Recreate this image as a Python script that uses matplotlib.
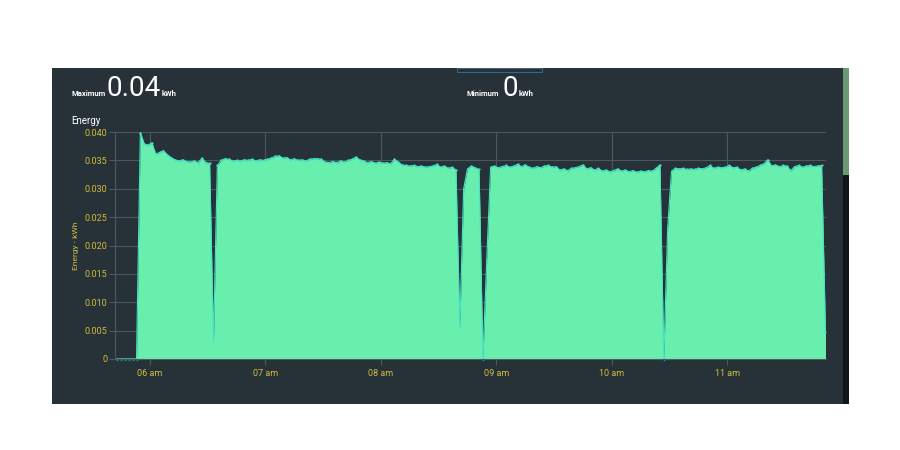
import matplotlib.pyplot as plt
from matplotlib.patches import Rectangle
import numpy as np

# 数据: 05:43 起每 2 分钟一个点 (kWh)
start_hour = 5 + 43 / 60
step_min = 2

off_vals = [0, 0, 0, 0, 0, 0]
seg_a = [0.0399, 0.0379, 0.0377, 0.0381, 0.0361, 0.0364, 0.0367, 0.0360, 0.0355, 0.0351,
         0.0349, 0.0351, 0.0348, 0.0347, 0.0349, 0.0346, 0.0354, 0.0346, 0.0345]
dip_a = [0.0033]
seg_b = [0.0341, 0.0350, 0.0353, 0.0352, 0.0349, 0.0350, 0.0349, 0.0351, 0.0350, 0.0352,
         0.0349, 0.0351, 0.0350, 0.0352, 0.0354, 0.0357, 0.0358, 0.0354, 0.0355, 0.0351,
         0.0353, 0.0350, 0.0351, 0.0349, 0.0352, 0.0353, 0.0353, 0.0352, 0.0347, 0.0346,
         0.0348, 0.0346, 0.0349, 0.0347, 0.0350, 0.0352, 0.0356, 0.0351, 0.0349, 0.0346,
         0.0348, 0.0345, 0.0347, 0.0345, 0.0346, 0.0344, 0.0352, 0.0347, 0.0342, 0.0341,
         0.0340, 0.0341, 0.0339, 0.0340, 0.0338, 0.0339, 0.0340, 0.0343, 0.0338, 0.0340,
         0.0336, 0.0338, 0.0333]
dip_b = [0.0056, 0.0300, 0.0335, 0.0340, 0.0337, 0.0334, 0.0, 0.0175]
seg_c = [0.0338, 0.0340, 0.0337, 0.0339, 0.0341, 0.0338, 0.0340, 0.0343, 0.0339, 0.0342,
         0.0338, 0.0336, 0.0339, 0.0337, 0.0340, 0.0341, 0.0338, 0.0339, 0.0333, 0.0335,
         0.0332, 0.0336, 0.0337, 0.0339, 0.0342, 0.0335, 0.0337, 0.0333, 0.0336, 0.0331,
         0.0333, 0.0330, 0.0332, 0.0335, 0.0331, 0.0333, 0.0330, 0.0332, 0.0329, 0.0331,
         0.0330, 0.0332, 0.0331, 0.0336, 0.0342]
dip_c = [0.0, 0.0230]
seg_d = [0.0331, 0.0336, 0.0335, 0.0336, 0.0334, 0.0335, 0.0334, 0.0336, 0.0335, 0.0337,
         0.0341, 0.0336, 0.0338, 0.0337, 0.0338, 0.0341, 0.0337, 0.0338, 0.0333, 0.0335,
         0.0331, 0.0336, 0.0338, 0.0341, 0.0344, 0.0351, 0.0340, 0.0342, 0.0339, 0.0341,
         0.0340, 0.0332, 0.0339, 0.0341, 0.0338, 0.0340, 0.0341, 0.0339, 0.0340, 0.0341]
tail = [0.0048]

energy = off_vals + seg_a + dip_a + seg_b + dip_b + seg_c + dip_c + seg_d + tail
hours = start_hour + np.arange(len(energy)) * step_min / 60

hour_ticks = [6, 7, 8, 9, 10, 11]
hour_labels = ['06 am', '07 am', '08 am', '09 am', '10 am', '11 am']
y_ticks = [0, 0.005, 0.010, 0.015, 0.020, 0.025, 0.030, 0.035, 0.040]

# 颜色
bg = '#263238'
grid_c = '#4d585e'
yellow = '#d1bd3c'
fill_c = '#69efad'
line_c = '#45e4c6'

plt.rcParams['font.family'] = ['Roboto', 'DejaVu Sans']

W, H = 900, 450
fig = plt.figure(figsize=(9, 4.5), dpi=100, facecolor='white')


def px(x, y):
    return x / W, 1 - y / H


# 面板背景
fig.patches.append(Rectangle(px(52, 404), 797 / W, 336 / H, transform=fig.transFigure,
                             facecolor=bg, edgecolor='none', zorder=0))
# 滚动条
fig.patches.append(Rectangle(px(843, 404), 6 / W, 229 / H, transform=fig.transFigure,
                             facecolor='#121617', edgecolor='none', zorder=1))
fig.patches.append(Rectangle(px(843, 175), 6 / W, 107 / H, transform=fig.transFigure,
                             facecolor='#6a9a72', edgecolor='none', zorder=1))
# 顶部标签框
fig.patches.append(Rectangle(px(457, 71.5), 85 / W, 4 / H, transform=fig.transFigure,
                             facecolor='none', edgecolor='#3c6580', lw=0.8, zorder=1))
fig.patches.append(Rectangle(px(456, 67.5), 87 / W, 4 / H, transform=fig.transFigure,
                             facecolor='white', edgecolor='none', zorder=1))

# 标题文字
fig.text(*px(71, 96), 'Maximum', color='white', fontsize=5.5, fontweight='bold', va='baseline')
fig.text(*px(106, 96), '0.04', color='white', fontsize=20, va='baseline')
fig.text(*px(162, 96), 'kWh', color='white', fontsize=5.5, fontweight='bold', va='baseline')
fig.text(*px(467, 96), 'Minimum', color='white', fontsize=5.5, fontweight='bold', va='baseline')
fig.text(*px(502, 96), '0', color='white', fontsize=20, va='baseline')
fig.text(*px(518.5, 96), 'kWh', color='white', fontsize=5.5, fontweight='bold', va='baseline')
fig.text(*px(71, 124.5), 'Energy', color='white', fontsize=7, va='baseline')

ax = fig.add_axes([115 / W, 1 - 359 / H, 710.7 / W, 227 / H], zorder=5)
ax.patch.set_alpha(0)

ax.fill_between(hours, energy, 0, color=fill_c, lw=0, zorder=2)
ax.plot(hours, energy, color=line_c, lw=0.8, marker='o', markersize=1.6,
        markeredgewidth=0, clip_on=False, zorder=3)

ax.set_xlim(5.697, 11.852)
ax.set_ylim(0, 0.040)

ax.set_xticks(hour_ticks)
ax.set_xticklabels(hour_labels)
ax.set_yticks(y_ticks)
ax.set_yticklabels(['0' if v == 0 else '%.3f' % v for v in y_ticks])

ax.grid(True, color=grid_c, lw=0.8, zorder=1)
ax.set_axisbelow(True)
ax.tick_params(axis='both', colors=grid_c, labelcolor=yellow, labelsize=6.5, length=4, width=0.8)
ax.tick_params(axis='x', pad=3)
ax.tick_params(axis='y', pad=1.5)
for s in ['top', 'right']:
    ax.spines[s].set_visible(False)
for s in ['left', 'bottom']:
    ax.spines[s].set_color(grid_c)
    ax.spines[s].set_linewidth(0.8)
ax.spines['bottom'].set_zorder(4)

ax.set_ylabel('Energy - kWh', color=yellow, fontsize=6, labelpad=4)

plt.savefig('out.png', dpi=100, facecolor='white')
